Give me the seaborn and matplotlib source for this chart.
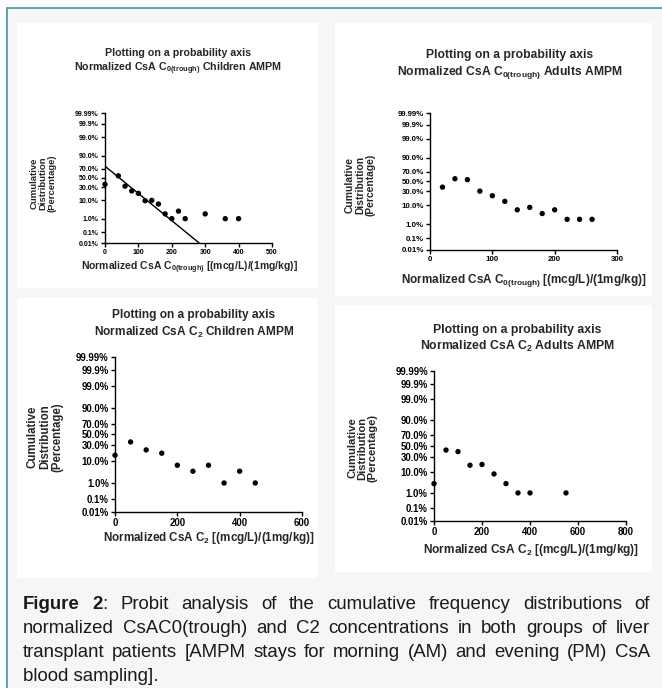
import numpy as np
import pandas as pd
import seaborn as sns
import matplotlib
matplotlib.use("Agg")
import matplotlib.pyplot as plt
from matplotlib.patches import Rectangle
from matplotlib.lines import Line2D
from matplotlib.transforms import IdentityTransform
from statistics import NormalDist

# Data
c0_child_x = [0, 40, 60, 80, 100, 120, 140, 160, 180, 200, 220, 240, 300, 360, 400]
c0_child_pct = [36, 55, 32, 23, 19, 9.7, 10, 6.8, 2.0, 1.0, 2.9, 1.0, 2.0, 1.0, 1.0]
c0_child_fit_x = [0, 282]
c0_child_fit_pct = [75, 0.01]

c0_adult_x = [20, 40, 60, 80, 100, 120, 140, 160, 180, 200, 220, 240, 260]
c0_adult_pct = [38, 56, 54, 30, 22, 14, 6.2, 8.0, 4.1, 6.2, 2.0, 2.0, 2.0]

c2_child_x = [0, 50, 100, 150, 200, 250, 300, 350, 400, 450]
c2_child_pct = [16, 36, 23, 18.5, 7.0, 3.9, 7.0, 1.0, 3.9, 1.0]

c2_adult_x = [0, 50, 100, 150, 200, 250, 300, 350, 400, 550]
c2_adult_pct = [3.1, 42, 39, 17, 18, 8.3, 3.1, 1.0, 1.0, 1.0]

prob_ticks = [0.01, 0.1, 1, 10, 30, 50, 70, 90, 99, 99.9, 99.99]
prob_labels = ["0.01%", "0.1%", "1.0%", "10.0%", "30.0%", "50.0%", "70.0%",
               "90.0%", "99.0%", "99.9%", "99.99%"]

title_top = "Plotting on a probability axis"
titles = [r"Normalized CsA C$_{\mathbf{0(trough)}}$ Children AMPM",
          r"Normalized CsA C$_{\mathbf{0(trough)}}$ Adults AMPM",
          r"Normalized CsA C$_{\mathbf{2}}$ Children AMPM",
          r"Normalized CsA C$_{\mathbf{2}}$ Adults AMPM"]
xlabels = [r"Normalized CsA C$_{\mathbf{0(trough)}}$ [(mcg/L)/(1mg/kg)]",
           r"Normalized CsA C$_{\mathbf{0(trough)}}$ [(mcg/L)/(1mg/kg)]",
           r"Normalized CsA C$_{\mathbf{2}}$ [(mcg/L)/(1mg/kg)]",
           r"Normalized CsA C$_{\mathbf{2}}$ [(mcg/L)/(1mg/kg)]"]
ylabel = "Cumulative\nDistribution\n(Percentage)"

caption_lines = [
    "Figure 2: Probit analysis of the cumulative frequency distributions of",
    "normalized CsAC0(trough) and C2 concentrations in both groups of liver",
    "transplant patients [AMPM stays for morning (AM) and evening (PM) CsA",
    "blood sampling].",
]

W, H = 662, 688

sns.set_style("ticks")
plt.rcParams["font.family"] = ["Liberation Sans", "DejaVu Sans"]
plt.rcParams["mathtext.fontset"] = "custom"
plt.rcParams["mathtext.rm"] = "Liberation Sans"
plt.rcParams["mathtext.bf"] = "Liberation Sans:bold"

_nd = NormalDist()
_ppf = np.vectorize(_nd.inv_cdf, otypes=[float])
_cdf = np.vectorize(_nd.cdf, otypes=[float])


def probit(p):
    p = np.clip(np.asarray(p, dtype=float) / 100.0, 1e-12, 1 - 1e-12)
    return _ppf(p)


def inv_probit(z):
    return _cdf(np.asarray(z, dtype=float)) * 100.0


fig = plt.figure(figsize=(W / 100, H / 100), dpi=100)
fig.patch.set_facecolor("white")

# page background, teal frame and white picture tiles (behind the axes)
fig.patches.append(Rectangle((7 / W, 0), 1, 1 - 8 / H, transform=fig.transFigure,
                             facecolor="#f6f6f6", edgecolor="none", zorder=-3))
for l, t, r, b in [(17, 23, 318, 288), (335, 23, 652, 296),
                   (17, 298, 318, 578), (335, 305, 652, 572)]:
    fig.patches.append(Rectangle((l / W, 1 - b / H), (r - l) / W, (b - t) / H,
                                 transform=fig.transFigure, facecolor="white",
                                 edgecolor="none", zorder=-2))
fig.lines.append(Line2D([7 / W, 7 / W], [0, 1 - 8 / H], transform=fig.transFigure,
                        color="#4f9fa3", lw=1.3, zorder=-1))
fig.lines.append(Line2D([7 / W, 1], [1 - 8 / H, 1 - 8 / H], transform=fig.transFigure,
                        color="#4f9fa3", lw=1.3, zorder=-1))

panels = [
    dict(x=c0_child_x, y=c0_child_pct, fit=(c0_child_fit_x, c0_child_fit_pct),
         box=(105, 113, 272, 243), xmax=500, step=100,
         tx=178, ty=(53, 69), tsize=7.7, yl=(43, 183), ylsize=6.8,
         xl=(189, 268), xlsize=7.5, ticksize=5.0),
    dict(x=c0_adult_x, y=c0_adult_pct, fit=None,
         box=(430, 113, 617, 250), xmax=300, step=100,
         tx=510, ty=(55, 73), tsize=8.7, yl=(360, 185), ylsize=7.4,
         xl=(524, 280), xlsize=8.5, ticksize=5.7),
    dict(x=c2_child_x, y=c2_child_pct, fit=None,
         box=(115, 357, 302, 512), xmax=600, step=200,
         tx=194, ty=(315, 332), tsize=8.6, yl=(45, 437), ylsize=8.3,
         xl=(209, 538), xlsize=8.4, ticksize=6.9),
    dict(x=c2_adult_x, y=c2_adult_pct, fit=None,
         box=(434, 371, 626, 521), xmax=800, step=200,
         tx=517, ty=(330, 346), tsize=8.8, yl=(362, 448), ylsize=8.1,
         xl=(531, 550), xlsize=8.6, ticksize=6.9),
]


def fx(px):
    return px / W


def fy(py):
    return 1 - py / H


for i, p in enumerate(panels):
    l, t, r, b = p["box"]
    ax = fig.add_axes([fx(l), fy(b), (r - l) / W, (b - t) / H])
    ax.patch.set_alpha(0)
    df = pd.DataFrame({"x": p["x"], "pct": p["y"]})
    sns.scatterplot(data=df, x="x", y="pct", ax=ax, color="black", s=15,
                    edgecolor="none", clip_on=False, zorder=3)
    if p["fit"] is not None:
        fit_df = pd.DataFrame({"x": p["fit"][0], "pct": p["fit"][1]})
        sns.lineplot(data=fit_df, x="x", y="pct", ax=ax, color="black",
                     lw=1.0, estimator=None)
    ax.set_yscale("function", functions=(probit, inv_probit))
    ax.set_ylim(0.01, 99.99)
    ax.set_xlim(0, p["xmax"])
    ax.set_yticks(prob_ticks)
    ax.set_yticklabels(prob_labels)
    ax.yaxis.set_minor_locator(matplotlib.ticker.NullLocator())
    ax.set_xticks(np.arange(0, p["xmax"] + 1, p["step"]))
    ax.set_xlabel("")
    ax.set_ylabel("")
    sns.despine(ax=ax)
    for sp in ("left", "bottom"):
        ax.spines[sp].set_linewidth(1.0)
        ax.spines[sp].set_color("black")
    ax.tick_params(length=3, width=1.0, pad=1.5, labelsize=p["ticksize"],
                   colors="black")
    for lab in ax.get_xticklabels() + ax.get_yticklabels():
        lab.set_fontweight("bold")

    fig.text(fx(p["tx"]), fy(p["ty"][0]), title_top, ha="center", va="center",
             fontsize=p["tsize"], fontweight="bold")
    fig.text(fx(p["tx"]), fy(p["ty"][1]), titles[i], ha="center", va="center",
             fontsize=p["tsize"], fontweight="bold")
    fig.text(fx(p["xl"][0]), fy(p["xl"][1]), xlabels[i], ha="center", va="center",
             fontsize=p["xlsize"], fontweight="bold")
    fig.text(fx(p["yl"][0]), fy(p["yl"][1]), ylabel, ha="center", va="center",
             rotation=90, fontsize=p["ylsize"], fontweight="bold",
             linespacing=1.0, multialignment="center")

# caption, justified by hand
cap_font, cap_size = "Liberation Sans", 13.4
cap_x0, cap_x1 = 23, 650
cap_base = [609, 633, 657, 681]
renderer = fig.canvas.get_renderer()

for i, line in enumerate(caption_lines):
    y = H - cap_base[i]
    if i == len(caption_lines) - 1:
        fig.text(cap_x0, y, line, transform=IdentityTransform(), family=cap_font,
                 fontsize=cap_size, va="baseline", ha="left", color="#1a1a1a")
        continue
    groups = []
    total = 0.0
    for w in line.split(" "):
        if i == 0 and w == "Figure":
            pieces = [(w, "bold")]
        elif i == 0 and w == "2:":
            pieces = [("2", "bold"), (":", "normal")]
        else:
            pieces = [(w, "normal")]
        grp = []
        for txt, wt in pieces:
            t = fig.text(0, y, txt, transform=IdentityTransform(), family=cap_font,
                         fontsize=cap_size, fontweight=wt, va="baseline",
                         ha="left", color="#1a1a1a")
            wpx = t.get_window_extent(renderer).width
            grp.append((t, wpx))
            total += wpx
        groups.append(grp)
    gap = (cap_x1 - cap_x0 - total) / (len(groups) - 1)
    x = cap_x0
    for grp in groups:
        for t, wpx in grp:
            t.set_x(x)
            x += wpx
        x += gap

fig.savefig("out.png", dpi=100)
